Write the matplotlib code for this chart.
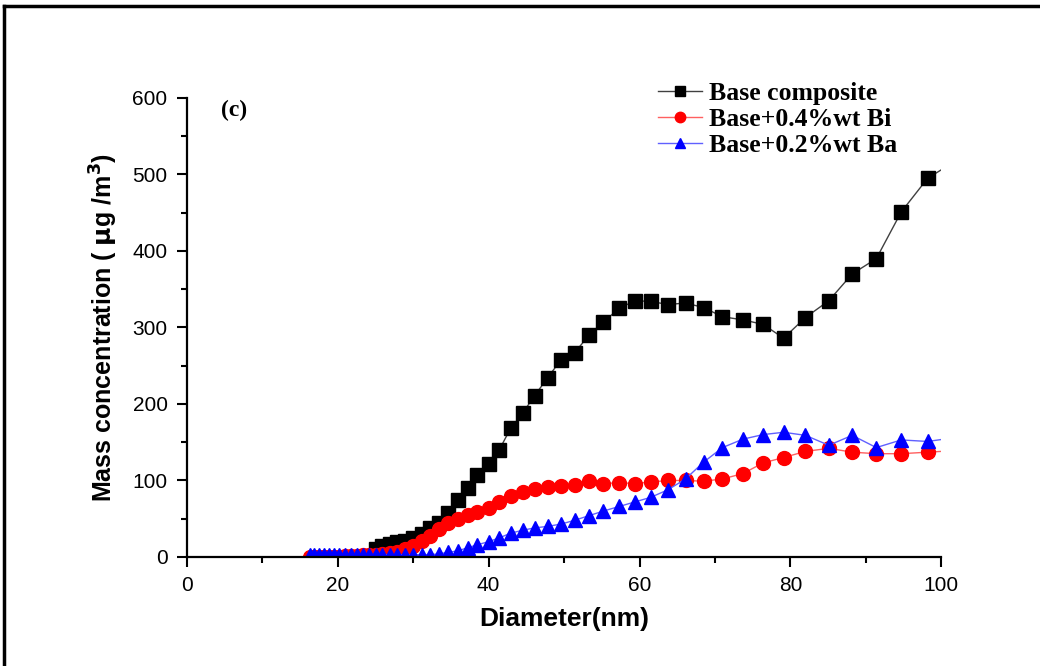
import matplotlib
matplotlib.use("Agg")
import matplotlib.pyplot as plt
from matplotlib.lines import Line2D
from matplotlib.ticker import MultipleLocator

# SMPS channel mid-point diameters (nm)
diam = [16.3, 16.8, 17.5, 18.1, 18.8, 19.5, 20.2, 20.9, 21.7, 22.5, 23.3, 24.1,
        25.0, 25.9, 26.9, 27.9, 28.9, 30.0, 31.1, 32.2, 33.4, 34.6, 35.9, 37.2,
        38.5, 40.0, 41.4, 42.9, 44.5, 46.1, 47.8, 49.6, 51.4, 53.3, 55.2, 57.3,
        59.4, 61.5, 63.8, 66.1, 68.5, 71.0, 73.7, 76.4, 79.1, 82.0, 85.1, 88.2,
        91.4, 94.7, 98.2, 101.8]

# base composite starts at 25.0 nm
base_d = diam[12:]
base = [11, 14, 17, 19, 21, 25, 30, 38, 45, 58, 75, 90,
        107, 122, 140, 168, 188, 211, 234, 258, 267, 290, 307, 325,
        335, 334, 330, 332, 326, 314, 310, 304, 286, 313, 335, 370,
        390, 451, 495, 517]

bi = [0, 0, 0, 0, 0, 0, 0.5, 1, 1, 1.5, 2, 2.5,
      3, 4, 5, 7, 10, 15, 21, 28, 36, 44, 50, 55,
      59, 64, 72, 80, 85, 89, 91, 93, 94, 99, 96, 97,
      96, 98, 100, 100, 99, 102, 109, 123, 130, 138, 142, 137,
      135, 135, 137, 139]

ba = [3, 3, 3, 3, 3, 3, 3, 3, 3, 3, 3, 3,
      3, 3, 3, 3, 3, 3, 3, 3, 4, 6, 8, 12,
      16, 20, 25, 31, 35, 38, 40, 43, 48, 54, 60, 66,
      72, 78, 88, 102, 124, 143, 154, 160, 163, 159, 146, 159,
      143, 153, 151, 156]

labels = ["Base composite", "Base+0.4%wt Bi", "Base+0.2%wt Ba"]

fig = plt.figure(figsize=(10.4, 6.66), dpi=100)
ax = fig.add_axes([0.1798, 0.1637, 0.7252, 0.6892])

ax.plot(base_d, base, color="#404040", lw=1, marker="s", ms=9.5,
        mfc="black", mec="black", label=labels[0])
ax.plot(diam, bi, color="#ff6060", lw=1, marker="o", ms=10,
        mfc="red", mec="red", label=labels[1])
ax.plot(diam, ba, color="#6060ff", lw=1, marker="^", ms=10,
        mfc="blue", mec="blue", label=labels[2])

ax.set_xlim(0, 100)
ax.set_ylim(0, 600)
ax.xaxis.set_major_locator(MultipleLocator(20))
ax.xaxis.set_minor_locator(MultipleLocator(10))
ax.yaxis.set_major_locator(MultipleLocator(100))
ax.yaxis.set_minor_locator(MultipleLocator(50))
ax.spines["top"].set_visible(False)
ax.spines["right"].set_visible(False)
ax.spines["left"].set_linewidth(1.6)
ax.spines["bottom"].set_linewidth(1.6)
ax.tick_params(which="major", direction="out", length=7, width=1.5,
               labelsize=15, pad=7)
ax.tick_params(which="minor", direction="out", length=4, width=1.5)
for t in ax.get_xticklabels() + ax.get_yticklabels():
    t.set_fontfamily("Liberation Sans")

ax.set_xlabel("Diameter(nm)", fontsize=19, fontweight="bold",
              family="Liberation Sans", labelpad=8)
ax.set_ylabel(r"Mass concentration ( $\mathbf{\mu}$g /m$^\mathbf{3}$)", fontsize=18,
              fontweight="bold", family="Liberation Sans", labelpad=9)

ax.text(4.5, 584, "(c)", fontsize=17, fontweight="bold",
        family="Liberation Serif", va="center")

leg = ax.legend(loc="upper left", bbox_to_anchor=(0.60, 1.075), frameon=False,
                prop={"family": "Liberation Serif", "weight": "bold", "size": 18.5},
                handlelength=1.75, handletextpad=0.25, labelspacing=0.12,
                borderpad=0.2, markerscale=0.75)

# outer frame around the figure (only top and left edges visible)
fig.add_artist(Line2D([0.004, 1.0], [0.991, 0.991], color="black", lw=2.5,
                      transform=fig.transFigure))
fig.add_artist(Line2D([0.004, 0.004], [0.0, 0.991], color="black", lw=2.5,
                      transform=fig.transFigure))

fig.savefig("out.png", dpi=100)
